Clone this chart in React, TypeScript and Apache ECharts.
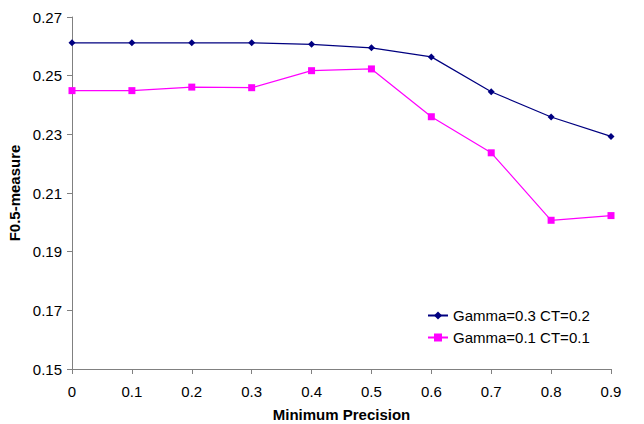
import React, { useEffect, useRef } from "react";
import * as echarts from "echarts";

const xValues = [0, 0.1, 0.2, 0.3, 0.4, 0.5, 0.6, 0.7, 0.8, 0.9];
const seriesA = [0.2612, 0.2612, 0.2612, 0.2612, 0.2607, 0.2595, 0.2564, 0.2445, 0.2359, 0.2293];
const seriesB = [0.2449, 0.2449, 0.2461, 0.2459, 0.2517, 0.2523, 0.236, 0.2237, 0.2007, 0.2023];
const nameA = "Gamma=0.3 CT=0.2";
const nameB = "Gamma=0.1 CT=0.1";

export default function App() {
  const ref = useRef<HTMLDivElement>(null);
  useEffect(() => {
    if (!ref.current) return;
    const chart = echarts.init(ref.current, null, { renderer: "svg" });
    const font = "Liberation Sans, Arial, sans-serif";
    chart.setOption({
      animation: false,
      textStyle: { fontFamily: font },
      grid: { left: 72, top: 17, right: 33, bottom: 55, containLabel: false, outerBoundsMode: "none" },
      legend: {
        orient: "vertical",
        left: 422,
        top: 303,
        itemWidth: 20,
        itemHeight: 10,
        itemGap: 7,
        textStyle: { fontSize: 15, color: "#000", fontFamily: font },
        data: [nameA, nameB],
      },
      xAxis: {
        type: "value",
        min: 0,
        max: 0.9,
        interval: 0.1,
        name: "Minimum Precision",
        nameLocation: "middle",
        nameGap: 38,
        nameTextStyle: { fontSize: 15, fontWeight: "bold", color: "#000", fontFamily: font },
        axisLine: { lineStyle: { color: "#808080", width: 1 } },
        axisTick: { show: true, length: 5, inside: false, lineStyle: { color: "#808080" } },
        axisLabel: { fontSize: 15, color: "#000", margin: 15, formatter: (v: number) => String(+v.toFixed(1)) },
        splitLine: { show: false },
      },
      yAxis: {
        type: "value",
        min: 0.15,
        max: 0.27,
        interval: 0.02,
        name: "F0.5-measure",
        nameLocation: "middle",
        nameGap: 48,
        nameRotate: 90,
        nameTextStyle: { fontSize: 15, fontWeight: "bold", color: "#000", fontFamily: font },
        axisLine: { show: true, lineStyle: { color: "#808080", width: 1 } },
        axisTick: { show: true, length: 5, inside: false, lineStyle: { color: "#808080" } },
        axisLabel: { fontSize: 15, color: "#000", margin: 10, formatter: (v: number) => v.toFixed(2) },
        splitLine: { show: false },
      },
      series: [
        {
          name: nameA,
          type: "line",
          data: xValues.map((x, i) => [x, seriesA[i]]),
          symbol: "diamond",
          symbolSize: 7,
          showAllSymbol: true,
          itemStyle: { color: "#000080" },
          lineStyle: { color: "#000080", width: 1.2 },
        },
        {
          name: nameB,
          type: "line",
          data: xValues.map((x, i) => [x, seriesB[i]]),
          symbol: "rect",
          symbolSize: 7,
          showAllSymbol: true,
          itemStyle: { color: "#FF00FF" },
          lineStyle: { color: "#FF00FF", width: 1.2 },
        },
      ],
    });
    return () => chart.dispose();
  }, []);
  return <div ref={ref} style={{ width: 644, height: 424, position: "absolute", left: 0, top: 0, background: "#fff" }} />;
}
